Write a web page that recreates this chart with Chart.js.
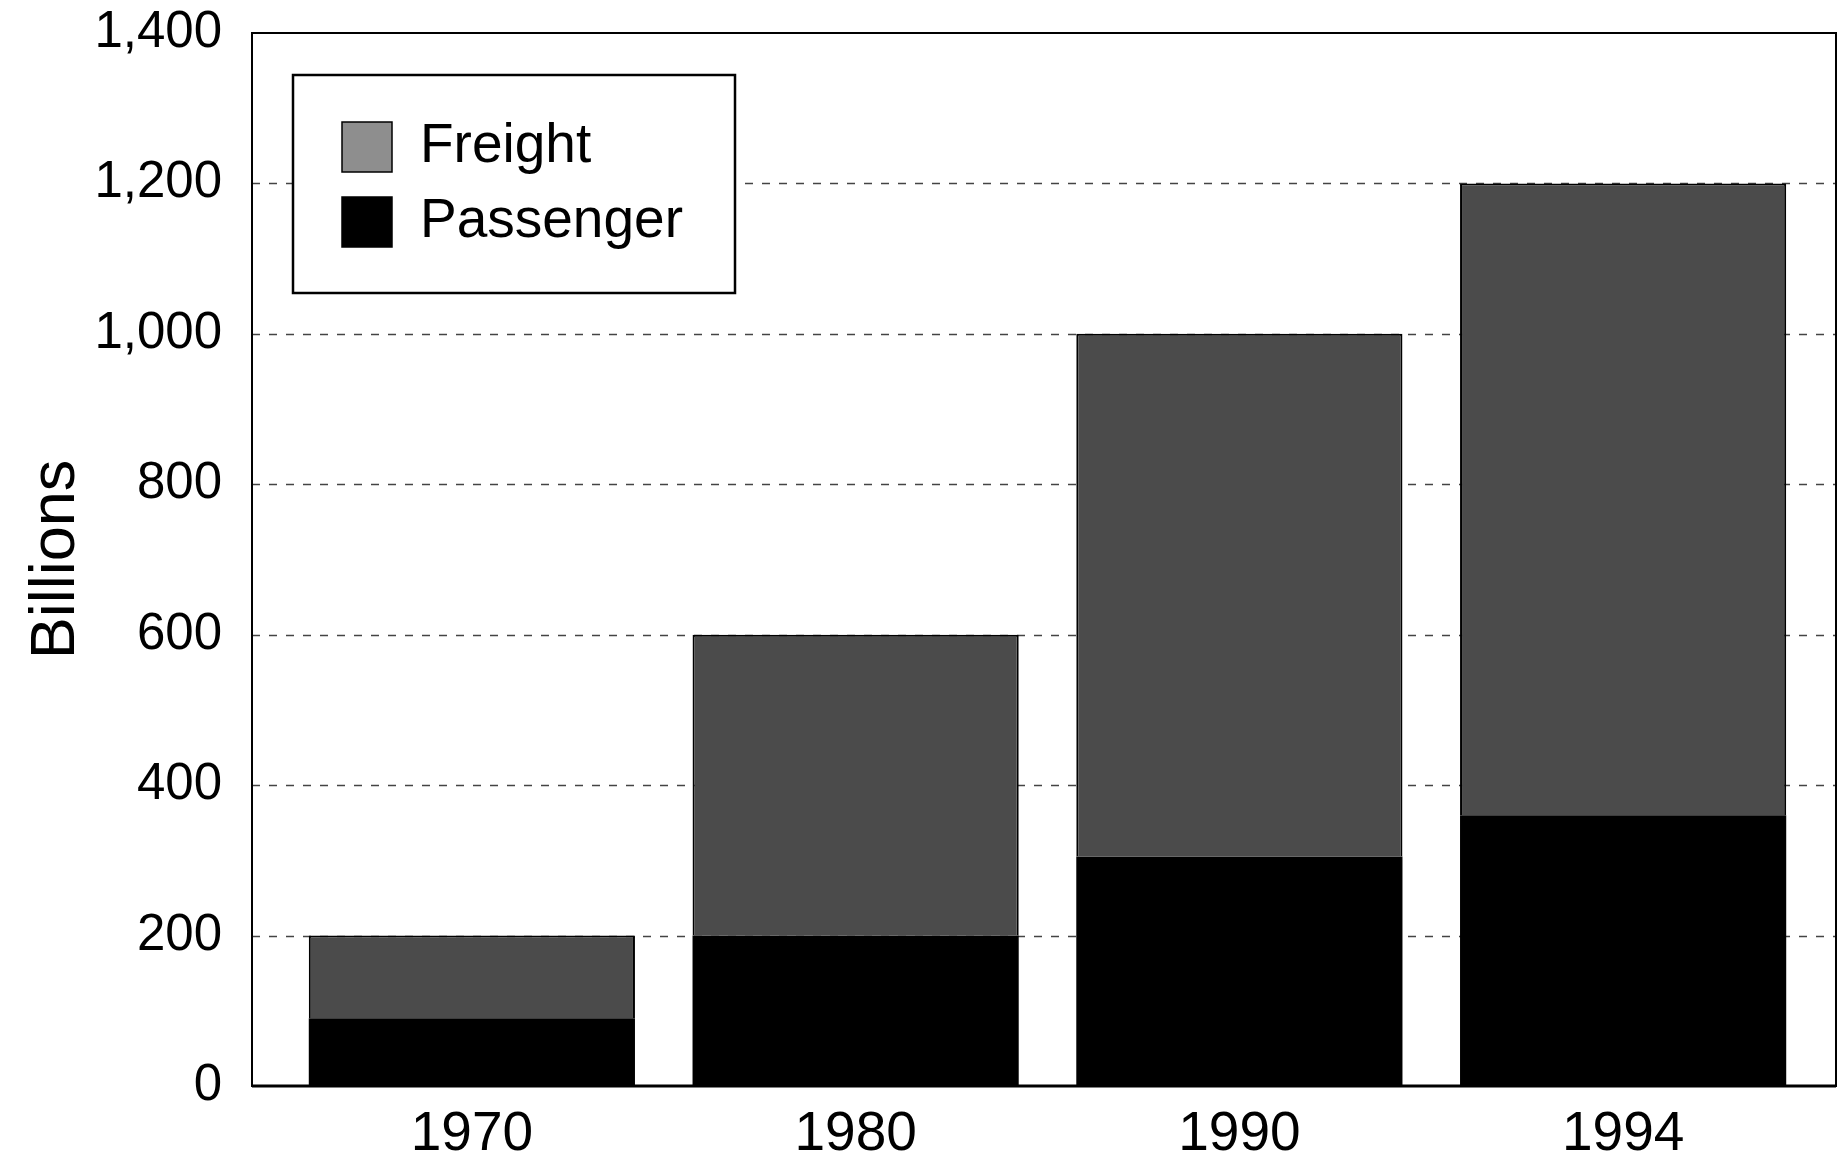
<!DOCTYPE html>
<html>
<head>
<meta charset="utf-8">
<style>
  html, body { margin: 0; padding: 0; background: #fff; }
  #wrap { width: 1838px; height: 1159px; }
</style>
</head>
<body>
<div id="wrap"><canvas id="transportChart"></canvas></div>
<script src="https://cdn.jsdelivr.net/npm/chart.js@4/dist/chart.umd.min.js"></script>
<script>
const years = ["1970", "1980", "1990", "1994"];
const passenger = [90, 200, 305, 360];
const freight = [110, 400, 695, 840];
const yTicks = [0, 200, 400, 600, 800, 1000, 1200, 1400];

const FONT = "'Liberation Sans', Arial, sans-serif";
const FRAME_LEFT_EXTRA = 28;
const FRAME_RIGHT_EXTRA = 21;

// dashed grid + outer frame, a bit wider than the category area
const frameGrid = {
  id: "frameGrid",
  beforeDatasetsDraw(chart) {
    const { ctx, chartArea, scales: { y } } = chart;
    const left = chartArea.left - FRAME_LEFT_EXTRA;
    const right = chartArea.right + FRAME_RIGHT_EXTRA;
    ctx.save();
    ctx.strokeStyle = "#444";
    ctx.lineWidth = 1.5;
    ctx.setLineDash([8, 9]);
    y.ticks.forEach((t) => {
      if (t.value === y.min || t.value === y.max) return;
      const py = Math.round(y.getPixelForValue(t.value)) + 0.5;
      ctx.beginPath();
      ctx.moveTo(left, py);
      ctx.lineTo(right, py);
      ctx.stroke();
    });
    ctx.restore();
  },
  afterDatasetsDraw(chart) {
    const { ctx, chartArea } = chart;
    const left = chartArea.left - FRAME_LEFT_EXTRA;
    const right = chartArea.right + FRAME_RIGHT_EXTRA;
    ctx.save();
    ctx.strokeStyle = "#000";
    ctx.lineWidth = 2;
    ctx.strokeRect(left, chartArea.top, right - left, chartArea.bottom - chartArea.top);
    ctx.lineWidth = 3;
    ctx.beginPath();
    ctx.moveTo(left, chartArea.bottom);
    ctx.lineTo(right, chartArea.bottom);
    ctx.stroke();
    ctx.restore();
  },
};

// boxed legend inside the plot
const boxLegend = {
  id: "boxLegend",
  afterDraw(chart) {
    const { ctx, chartArea } = chart;
    const x = chartArea.left + 13;
    const y = chartArea.top + 42;
    ctx.save();
    ctx.fillStyle = "#fff";
    ctx.fillRect(x, y, 442, 218);
    ctx.lineWidth = 2.5;
    ctx.strokeStyle = "#000";
    ctx.strokeRect(x, y, 442, 218);
    const items = [chart.data.datasets[1], chart.data.datasets[0]];
    items.forEach((ds, i) => {
      const sy = y + 47 + i * 75;
      ctx.fillStyle = ds.legendColor;
      ctx.fillRect(x + 49, sy, 50, 50);
      ctx.lineWidth = 1.5;
      ctx.strokeRect(x + 49, sy, 50, 50);
      ctx.fillStyle = "#000";
      ctx.font = `55px ${FONT}`;
      ctx.textBaseline = "middle";
      ctx.textAlign = "left";
      ctx.fillText(ds.label, x + 127, sy + 25);
    });
    ctx.restore();
  },
};

const noPad = (scale) => {
  scale.paddingTop = 0;
  scale.paddingBottom = 0;
  scale.paddingLeft = 0;
  scale.paddingRight = 0;
};

new Chart(document.getElementById("transportChart"), {
  type: "bar",
  data: {
    labels: years,
    datasets: [
      {
        label: "Passenger",
        data: passenger,
        backgroundColor: "#000",
        legendColor: "#000",
        borderWidth: 0,
        barPercentage: 0.85,
        categoryPercentage: 1.0,
      },
      {
        label: "Freight",
        data: freight,
        backgroundColor: "#4b4b4b",
        legendColor: "#8e8e8e",
        borderColor: "#000",
        borderWidth: 2,
        barPercentage: 0.85,
        categoryPercentage: 1.0,
      },
    ],
  },
  options: {
    animation: false,
    responsive: true,
    maintainAspectRatio: false,
    layout: { padding: { top: 33, right: 23, left: 0, bottom: 0 } },
    scales: {
      x: {
        stacked: true,
        grid: { display: false, drawTicks: false },
        border: { display: false },
        ticks: {
          color: "#000",
          padding: 16,
          font: { family: FONT, size: 55 },
        },
        afterFit: (scale) => { scale.height = 73; noPad(scale); },
      },
      y: {
        stacked: true,
        min: 0,
        max: 1400,
        grid: { display: false, drawTicks: false },
        border: { display: false },
        afterBuildTicks: (scale) => { scale.ticks = yTicks.map((v) => ({ value: v })); },
        afterFit: (scale) => { scale.width = 280; noPad(scale); },
        ticks: {
          color: "#000",
          padding: 58,
          font: { family: FONT, size: 51 },
          callback: (value) => value.toLocaleString("en-US"),
        },
        title: {
          display: true,
          text: "Billions",
          color: "#000",
          padding: { top: 19, bottom: 0 },
          font: { family: FONT, size: 63, lineHeight: 1.2 },
        },
      },
    },
    plugins: {
      legend: { display: false },
      tooltip: { enabled: false },
    },
  },
  plugins: [frameGrid, boxLegend],
});
</script>
</body>
</html>
